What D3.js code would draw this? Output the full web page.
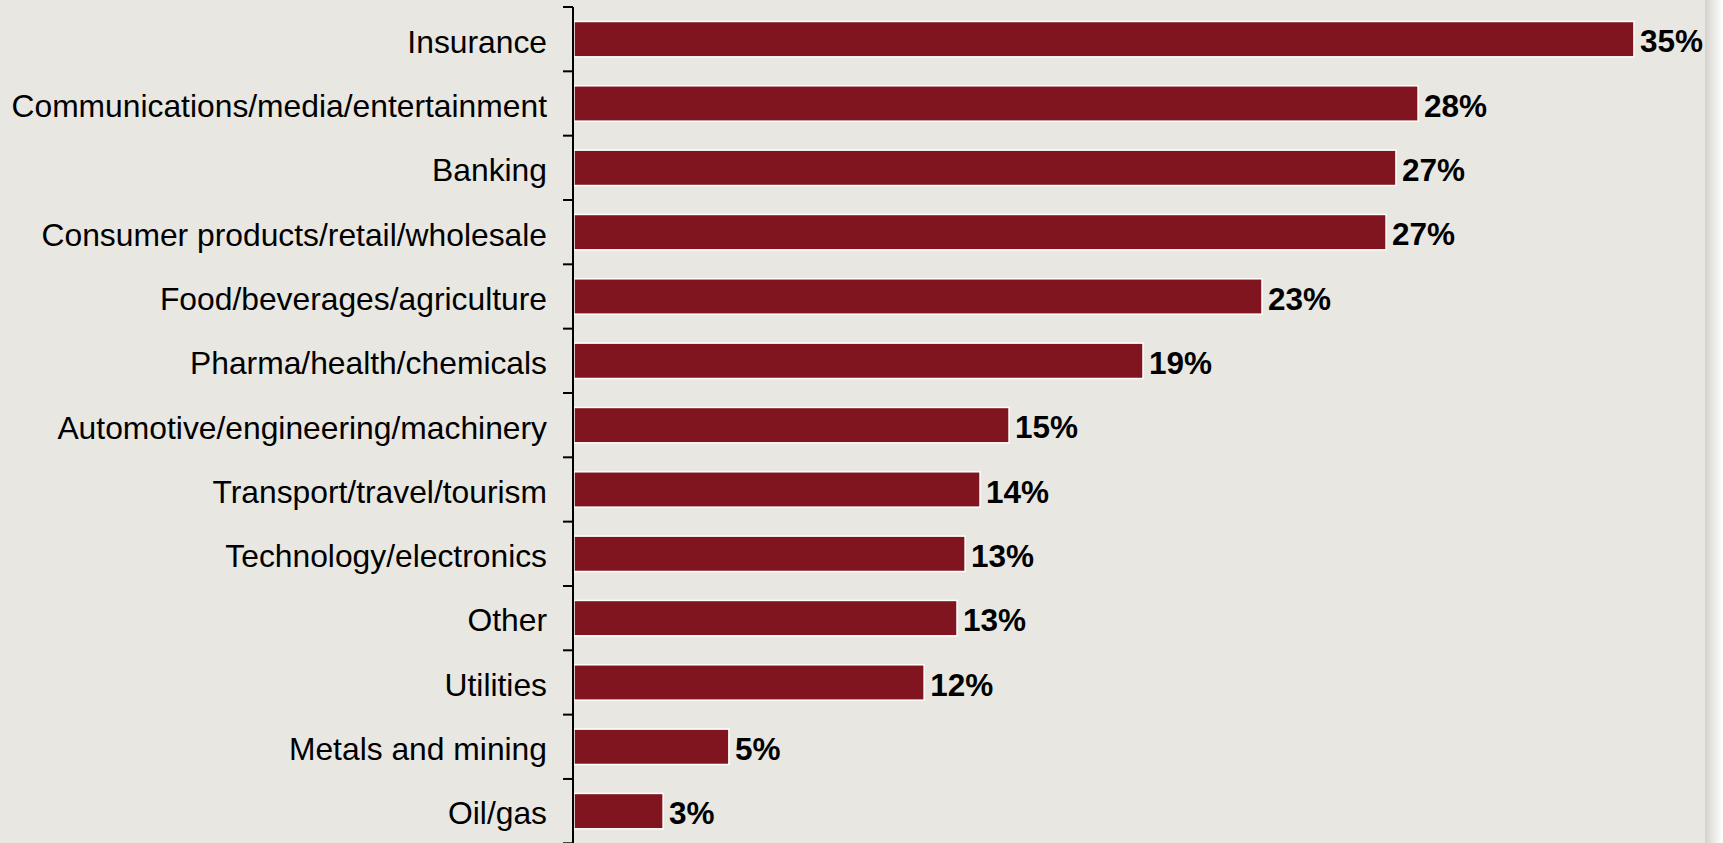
<!DOCTYPE html>
<html>
<head>
<meta charset="utf-8">
<script src="https://cdn.jsdelivr.net/npm/d3@7"></script>
<style>
  html, body { margin: 0; padding: 0; background: #ffffff; }
  svg { display: block; }
</style>
</head>
<body>
<svg id="chart" width="1723" height="843"></svg>
<script>
const categories = [
  "Insurance",
  "Communications/media/entertainment",
  "Banking",
  "Consumer products/retail/wholesale",
  "Food/beverages/agriculture",
  "Pharma/health/chemicals",
  "Automotive/engineering/machinery",
  "Transport/travel/tourism",
  "Technology/electronics",
  "Other",
  "Utilities",
  "Metals and mining",
  "Oil/gas"
];
const values = [35.45, 28.23, 27.49, 27.16, 23.01, 19.03, 14.55, 13.58, 13.08, 12.81, 11.71, 5.18, 2.98];
const valueLabels = ["35%", "28%", "27%", "27%", "23%", "19%", "15%", "14%", "13%", "13%", "12%", "5%", "3%"];

const W = 1723, H = 843;
const svg = d3.select("#chart");

const defs = svg.append("defs");
const grad = defs.append("linearGradient").attr("id", "shadow").attr("x1", "0").attr("x2", "1").attr("y1", "0").attr("y2", "0");
grad.append("stop").attr("offset", "0").attr("stop-color", "#d3d2cc");
grad.append("stop").attr("offset", "0.35").attr("stop-color", "#e4e3df");
grad.append("stop").attr("offset", "1").attr("stop-color", "#ffffff");

// background
svg.append("rect").attr("x", 0).attr("y", 0).attr("width", 1705).attr("height", H).attr("fill", "#e8e7e2");
svg.append("rect").attr("x", 1705).attr("y", 0).attr("width", W - 1705).attr("height", H).attr("fill", "url(#shadow)");

const x0 = 574;
const x = d3.scaleLinear().domain([0, 38]).range([x0, x0 + 38 * 29.9]);
const y = d3.scaleBand().domain(categories).range([7, 7 + 13 * 64.33]).paddingInner(0.45).paddingOuter(0.225);

const data = categories.map((c, i) => ({ c, v: values[i], lab: valueLabels[i] }));

// bars
svg.append("g").selectAll("rect").data(data).join("rect")
  .attr("x", x(0))
  .attr("y", d => y(d.c))
  .attr("width", d => x(d.v) - x(0))
  .attr("height", y.bandwidth())
  .attr("fill", "#80151f")
  .attr("stroke", "#ffffff")
  .attr("stroke-width", 1.5);

// value labels
svg.append("g").selectAll("text").data(data).join("text")
  .attr("x", d => x(d.v) + 6)
  .attr("y", d => y(d.c) + y.bandwidth() / 2)
  .attr("dy", "0.42em")
  .attr("font-family", "Liberation Sans, Arial, sans-serif")
  .attr("font-weight", "bold")
  .attr("font-size", "31.5px")
  .attr("fill", "#000")
  .text(d => d.lab);

// category labels
svg.append("g").selectAll("text").data(data).join("text")
  .attr("x", 547)
  .attr("y", d => y(d.c) + y.bandwidth() / 2)
  .attr("dy", "0.42em")
  .attr("text-anchor", "end")
  .attr("font-family", "Liberation Sans, Arial, sans-serif")
  .attr("font-size", "31.8px")
  .attr("fill", "#000")
  .text(d => d.c);

// axis line and ticks at band boundaries
const step = y.step();
const yTop = y.range()[0];
const boundaries = d3.range(categories.length + 1).map(i => yTop + i * step);
const axisG = svg.append("g");
axisG.append("line")
  .attr("x1", 573).attr("x2", 573)
  .attr("y1", yTop).attr("y2", H)
  .attr("stroke", "#000").attr("stroke-width", 2);
axisG.selectAll("line.tick").data(boundaries).join("line")
  .attr("class", "tick")
  .attr("x1", 563).attr("x2", 573)
  .attr("y1", d => d).attr("y2", d => d)
  .attr("stroke", "#000").attr("stroke-width", 2);
</script>
</body>
</html>
